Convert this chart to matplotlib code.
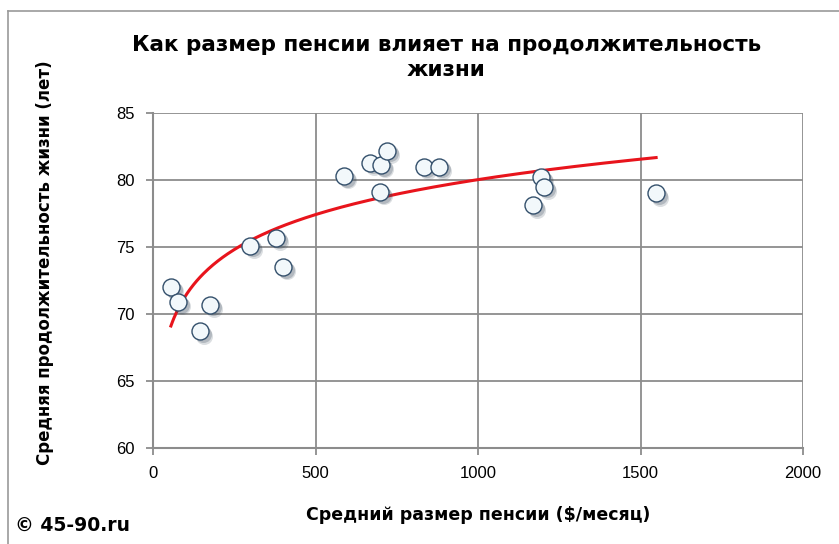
import matplotlib.pyplot as plt
import matplotlib.transforms as mtransforms
import numpy as np
from matplotlib.lines import Line2D

# average pension ($/month) and life expectancy (years)
pension = [55, 77, 145, 175, 298, 378, 400, 588, 668, 702, 720, 698, 834, 880, 1169, 1194, 1203, 1548]
life = [72.0, 70.9, 68.7, 70.7, 75.1, 75.7, 73.5, 80.3, 81.3, 81.1, 82.2, 79.1, 81.0, 81.0, 78.1, 80.2, 79.5, 79.0]

x_ticks = [0, 500, 1000, 1500, 2000]
y_ticks = [60, 65, 70, 75, 80, 85]

title = "Как размер пенсии влияет на продолжительность\nжизни"
x_label = "Средний размер пенсии ($/месяц)"
y_label = "Средняя продолжительность жизни (лет)"
credit = "© 45-90.ru"

plt.rcParams["font.family"] = ["Liberation Sans", "DejaVu Sans"]
bold_font = ["DejaVu Sans"]

fig = plt.figure(figsize=(8.39, 5.44), dpi=100)
ax = fig.add_axes([0.1824, 0.1765, 0.7747, 0.6158])

# logarithmic trendline (least squares on ln x)
px = np.array(pension, dtype=float)
a, b = np.polyfit(np.log(px), np.array(life), 1)
xs = np.linspace(px.min(), px.max(), 300)
ax.plot(xs, a * np.log(xs) + b, color="#e8141c", lw=2.2, zorder=2)

# marker shadow (two soft layers)
for off, alpha in [(3.0, 0.18), (2.0, 0.25)]:
    shadow = mtransforms.offset_copy(ax.transData, fig=fig, x=off, y=-off, units="points")
    ax.scatter(pension, life, s=150, color="#3a4a5a", alpha=alpha, linewidths=0,
               transform=shadow, zorder=3)
ax.scatter(pension, life, s=150, facecolor="#f2f8fb", edgecolor="#34506c",
           linewidths=1.0, zorder=4)

ax.set_xlim(0, 2000)
ax.set_ylim(60, 85)
ax.set_xticks(x_ticks)
ax.set_yticks(y_ticks)
ax.grid(True, color="#8c8c8c", lw=1.3)
ax.set_axisbelow(True)
for s in ax.spines.values():
    s.set_visible(False)
ax.spines["left"].set_visible(True)
ax.spines["bottom"].set_visible(True)
ax.spines["left"].set_color("#8c8c8c")
ax.spines["bottom"].set_color("#8c8c8c")
ax.spines["left"].set_linewidth(1.5)
ax.spines["bottom"].set_linewidth(1.5)
ax.tick_params(colors="#8c8c8c", labelcolor="black", labelsize=12, length=5, width=1.3, pad=8)

fig.text(0.532, 0.935, title, ha="center", va="top", fontsize=15.5, fontweight="bold",
         linespacing=1.3, family=bold_font)
fig.text(0.57, 0.053, x_label, ha="center", va="center", fontsize=12.5, fontweight="bold",
         family=bold_font)
fig.text(0.054, 0.518, y_label, ha="center", va="center", rotation=90, fontsize=12,
         fontweight="bold", family=bold_font)
fig.text(0.018, 0.035, credit, ha="left", va="center", fontsize=13.5, fontweight="bold",
         family=bold_font)

# chart frame: only top and left edges are inside the picture
fig.add_artist(Line2D([0.0095, 1.0], [0.98, 0.98], transform=fig.transFigure, color="#9a9a9a", lw=1.2))
fig.add_artist(Line2D([0.0095, 0.0095], [0.0, 0.98], transform=fig.transFigure, color="#9a9a9a", lw=1.2))

fig.savefig("out.png", dpi=100)
